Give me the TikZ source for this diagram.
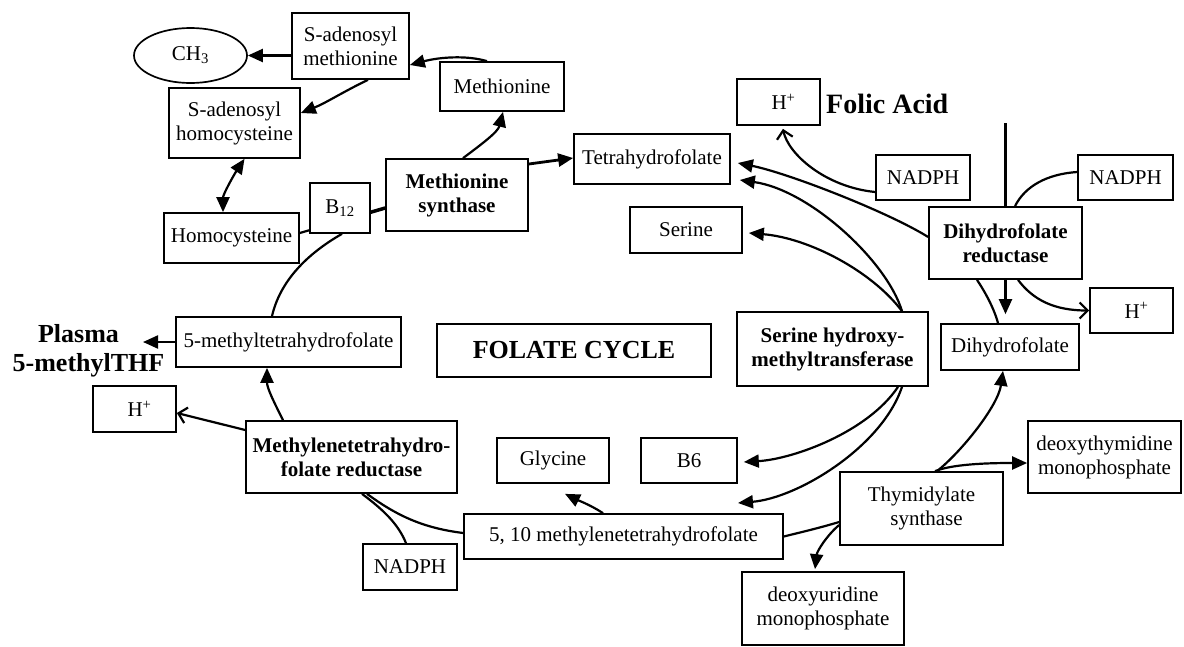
\documentclass[tikz,border=0pt]{standalone}
\usepackage{fontspec}
\setmainfont{Liberation Serif}
\usetikzlibrary{arrows.meta,backgrounds,shapes.geometric,calc}
\begin{document}
\begin{tikzpicture}[x=1pt,y=-1pt,
  box/.style={draw,line width=1.7pt,fill=white,inner sep=1pt,align=center,font=\fontsize{21}{24}\selectfont},
  bbox/.style={box,font=\fontsize{21}{24}\selectfont\bfseries},
  conn/.style={line width=2.2pt},
  fa/.style={conn,-{Triangle[length=15pt,width=13pt]}},
  ba/.style={conn,-{Straight Barb[length=8pt,width=16pt]}},
  ]
\useasboundingbox (0,0) rectangle (1184,646);
\node[box,ellipse,minimum width=113pt,minimum height=55pt] (ch3) at (190.5,55.5) {CH\textsubscript{3}};
\node[box,minimum width=117pt,minimum height=66pt] (sam) at (350.5,46) {S-adenosyl\\methionine};
\node[box,minimum width=131pt,minimum height=70pt] (sah) at (234.5,123) {S-adenosyl\\homocysteine};
\node[box,minimum width=135pt,minimum height=50pt] (hcy) at (231.5,238) {Homocysteine};
\node[box,minimum width=60pt,minimum height=50pt] (b12) at (340,208) {B\textsubscript{12}};
\node[bbox,minimum width=142pt,minimum height=72pt] (ms) at (457,195) {Methionine\\synthase};
\node[box,minimum width=124pt,minimum height=49pt] (met) at (502,86.5) {Methionine};
\node[box,minimum width=156pt,minimum height=50pt] (thf) at (652,159) {Tetrahydrofolate};
\node[box,minimum width=112pt,minimum height=46pt] (ser) at (686,230) {Serine};
\node[box,minimum width=83pt,minimum height=46pt] (hp1) at (778.5,102) {\hspace*{10pt}H\textsuperscript{+}};
\node[anchor=west,font=\fontsize{28}{30}\selectfont\bfseries,inner sep=0pt] (folic) at (826,104) {Folic Acid};
\node[box,minimum width=94pt,minimum height=45pt] (nadph1) at (923,177.5) {NADPH};
\node[box,minimum width=95pt,minimum height=45pt] (nadph2) at (1125.5,177.5) {NADPH};
\coordinate (folictop) at (1005.5,123);
\node[bbox,minimum width=153pt,minimum height=72pt] (dhfr) at (1005.5,243) {Dihydrofolate\\reductase};
\node[box,minimum width=83pt,minimum height=45pt] (hp2) at (1131.5,310.5) {\hspace*{10pt}H\textsuperscript{+}};
\node[box,minimum width=138pt,minimum height=46pt] (dhf) at (1010,347) {Dihydrofolate};
\node[bbox,minimum width=191pt,minimum height=74pt] (shmt) at (832.5,349) {Serine hydroxy-\\methyltransferase};
\node[box,minimum width=274pt,minimum height=53pt,font=\fontsize{26}{28}\selectfont\bfseries] (fc) at (574,350.5) {FOLATE CYCLE};
\node[box,minimum width=225pt,minimum height=50pt] (mthf) at (288.5,342) {5-methyltetrahydrofolate};
\node[align=center,font=\fontsize{26}{29}\selectfont\bfseries,inner sep=0pt] (plasma) at (88.5,351) {Plasma\hspace*{20pt}\\5-methylTHF};
\coordinate (plasmatip) at (143,342);
\node[box,minimum width=83pt,minimum height=46pt] (hp3) at (134.5,409) {\hspace*{10pt}H\textsuperscript{+}};
\node[bbox,minimum width=211pt,minimum height=72pt] (mthfr) at (351.5,457) {Methylenetetrahydro-\\folate reductase};
\node[box,minimum width=94pt,minimum height=46pt] (nadph3) at (410,567) {NADPH};
\node[box,minimum width=319pt,minimum height=45pt] (m510) at (623.5,536.5) {5, 10 methylenetetrahydrofolate};
\coordinate (m510tip) at (738,503);
\node[box,minimum width=112pt,minimum height=45pt] (gly) at (553,460.5) {Glycine};
\node[box,minimum width=96pt,minimum height=45pt] (b6) at (689,460.5) {B6};
\node[box,minimum width=163pt,minimum height=73pt] (ts) at (921.5,508.5) {Thymidylate\\\hspace*{10pt}synthase};
\node[box,minimum width=162pt,minimum height=73pt] (dump) at (823,608.5) {deoxyuridine\\monophosphate};
\node[box,minimum width=153pt,minimum height=72pt] (dtmp) at (1104.5,457) {deoxythymidine\\monophosphate};

\begin{pgfonlayer}{background}
\draw[fa] (sam.west |- ch3.east) -- (ch3.east);
\draw[fa] ([xshift=-15pt]met.north) .. controls +(-20,-6) and +(30,-8) .. ([yshift=-19pt]sam.east);
\draw[fa] ([xshift=17.5pt]sam.south) .. controls +(-25,12) and +(25,-10) .. ([yshift=10pt]sah.east);
\draw[conn,{Triangle[length=15pt,width=13pt]}-{Triangle[length=15pt,width=13pt]}] ([xshift=10pt]sah.south) .. controls +(-10,15) and +(0,-18) .. ([xshift=-8.5pt]hcy.north);
\coordinate (l1) at ([yshift=5pt]hcy.east);
\coordinate (l2) at ([yshift=-13pt]ms.west);
\draw[conn] (l1) -- (l2);
\draw[line width=3.5pt] ($(l1)!0.8!(l2)$) -- (l2);
\draw[conn] ([xshift=2pt]b12.south) .. controls +(-35,20) and +(8,-35) .. ([xshift=-16.5pt]mthf.north);
\draw[fa] ([xshift=-68.5pt]mthfr.north) .. controls +(-10,-20) and +(0,20) .. ([xshift=-21.5pt]mthf.south);
\draw[ba] ([yshift=27pt]mthfr.west) -- ([yshift=-4pt]hp3.east);
\draw[fa] (mthf.west) -- (plasmatip);
\draw[conn] ([xshift=10.5pt]mthfr.south) .. controls +(20,15) and +(-8,-20) .. ([xshift=-4pt]nadph3.north);
\draw[conn] ([xshift=15.5pt]mthfr.south) .. controls +(30,22) and +(-40,-5) .. ([yshift=3.5pt]m510.west);
\draw[fa] ([xshift=-20.5pt]m510.north) .. controls +(-12,-8) and +(10,5) .. ([xshift=12pt,yshift=-10pt]gly.south);
\draw[conn] (m510.east) .. controls +(20,-5) and +(-20,6) .. ([yshift=-13.5pt]ts.west);
\draw[fa] ([yshift=-16.5pt]ts.west) .. controls +(-12,10) and +(2,-18) .. ([xshift=-8pt,yshift=2pt]dump.north);
\draw[fa] ([xshift=15.5pt]ts.north) .. controls +(25,-20) and +(-5,35) .. ([xshift=-7pt]dhf.south);
\draw[fa] ([xshift=13.5pt]ts.north) .. controls +(20,-8) and +(-30,0) .. ([yshift=-6pt]dtmp.west);
\draw[fa,shorten >=9pt] (dhfr.south) -- (dhfr.south |- dhf.north);
\draw[conn] (folictop) -- (dhfr.north);
\draw[conn] ([xshift=9.5pt]dhfr.north) .. controls +(10,-20) and +(-30,2) .. ([yshift=5.5pt]nadph2.west);
\draw[ba] ([xshift=12.5pt]dhfr.south) .. controls +(15,20) and +(-35,0) .. (hp2.west);
\draw[conn] ([xshift=-28.5pt]dhfr.south) .. controls +(8,12) and +(-4,-15) .. ([xshift=-12pt]dhf.north);
\draw[fa] ([yshift=6pt]dhfr.west) .. controls +(-40,-25) and +(50,10) .. ([xshift=7pt,yshift=-4pt]thf.east);
\draw[ba] ([yshift=-14.5pt]nadph1.west) .. controls +(-50,-5) and +(5,25) .. ([xshift=4.5pt,yshift=-3pt]hp1.south);
\draw[fa] ([xshift=69.5pt]shmt.north) .. controls +(-15,-50) and +(70,10) .. ([xshift=9pt,yshift=-21pt]thf.east);
\draw[fa] ([xshift=69.5pt]shmt.north) .. controls +(-30,-40) and +(60,5) .. ([xshift=6pt,yshift=-3pt]ser.east);
\draw[fa] ([xshift=65.5pt]shmt.south) .. controls +(-30,45) and +(50,-3) .. ([xshift=6pt,yshift=-1.5pt]b6.east);
\draw[fa] ([xshift=69.5pt]shmt.south) .. controls +(-20,60) and +(60,-5) .. (m510tip);
\draw[fa] ([xshift=6pt]ms.north) .. controls +(20,-15) and +(-5,20) .. ([xshift=1pt]met.south);
\draw[fa,line width=2.8pt] ([yshift=31pt]ms.east) -- ([yshift=1pt]thf.west);
\end{pgfonlayer}
\end{tikzpicture}
\end{document}
